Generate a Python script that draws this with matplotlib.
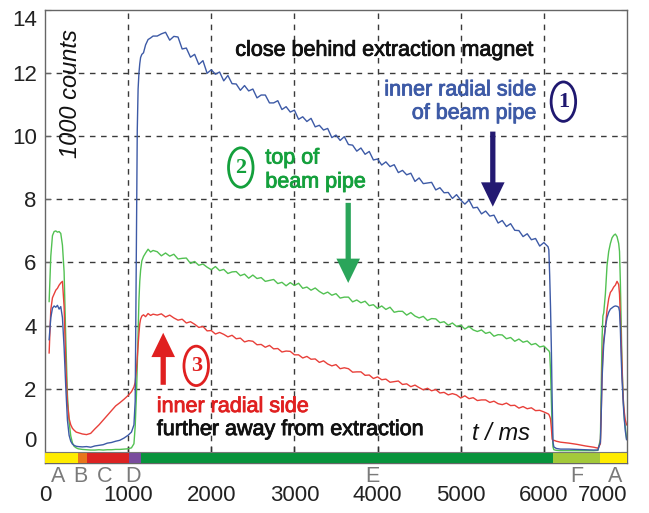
import matplotlib
matplotlib.use('Agg')
import matplotlib.pyplot as plt
from matplotlib.patches import Ellipse
from matplotlib import patheffects, transforms

# time axis in ms (shared by the three detector traces)
t_ms = [50, 70, 90, 110, 130, 150, 170, 190, 210, 230, 250, 270, 290, 310, 330,
        350, 375, 400, 450, 500, 550, 600, 650, 700, 750, 800, 850, 900, 950, 1000,
        1040, 1070, 1085, 1100, 1110, 1120, 1130, 1140, 1150, 1165, 1185, 1210, 1240,
        1270, 1300,
        1350, 1400, 1450, 1500, 1550, 1600, 1650, 1700, 1750, 1800,
        1850, 1900, 1950, 2000, 2050, 2100, 2150, 2200, 2250, 2300,
        2350, 2400, 2450, 2500, 2550, 2600, 2650, 2700, 2750, 2800,
        2850, 2900, 2950, 3000, 3050, 3100, 3150, 3200, 3250, 3300,
        3350, 3400, 3450, 3500, 3550, 3600, 3650, 3700, 3750, 3800,
        3850, 3900, 3950, 4000, 4050, 4100, 4150, 4200, 4250, 4300,
        4350, 4400, 4450, 4500, 4550, 4600, 4650, 4700, 4750, 4800,
        4850, 4900, 4950, 5000, 5050, 5100, 5150, 5200, 5250, 5300,
        5350, 5400, 5450, 5500, 5550, 5600, 5650, 5700, 5750, 5800,
        5850, 5900, 5950, 6000, 6050,
        6060, 6070, 6080, 6090, 6100, 6110, 6120, 6150, 6200, 6300, 6400, 6500,
        6600, 6650, 6680, 6690, 6700, 6710, 6720, 6740, 6760, 6780, 6800, 6820,
        6840, 6860, 6880, 6900, 6910, 6920, 6930, 6940, 6950, 6960, 6970, 6980, 6995]

# (1) inner radial side of beam pipe, close behind extraction magnet
blue_inner = [3.55, 4.25, 4.55, 4.62, 4.58, 4.64, 4.52, 4.60, 4.25, 3.30, 2.05, 1.00, 0.52, 0.33, 0.24,
              0.20, 0.17, 0.16, 0.15, 0.16, 0.14, 0.18, 0.20, 0.22, 0.27, 0.29, 0.33, 0.36, 0.43, 0.52,
              0.62, 0.85, 1.60, 6.50, 10.2, 11.5, 12.0, 12.3, 12.5, 12.6, 12.65, 12.9, 13.07,
              13.12, 13.18,
              13.18, 13.25, 13.30, 13.05, 13.17, 13.15, 12.77, 12.80, 12.51, 12.60,
              12.28, 12.40, 12.00, 12.11, 11.97, 12.04, 11.76, 11.93, 11.67, 11.66,
              11.46, 11.61, 11.44, 11.50, 11.22, 11.31, 11.31, 11.06, 11.06, 11.13,
              10.85, 10.94, 10.77, 10.83, 10.54, 10.62, 10.47, 10.57, 10.30, 10.35,
              10.20, 10.25, 9.96, 10.04, 9.87, 9.99, 9.74, 9.72, 9.53, 9.63,
              9.43, 9.52, 9.25, 9.28, 9.09, 9.19, 9.04, 9.10, 8.85, 8.92,
              8.78, 8.83, 8.57, 8.68, 8.50, 8.52, 8.54, 8.30, 8.37, 8.21,
              8.22, 8.03, 8.15, 7.98, 7.85, 7.98, 7.73, 7.75, 7.54, 7.63,
              7.47, 7.50, 7.25, 7.33, 7.14, 7.23, 7.02, 7.01, 6.82, 6.91,
              6.72, 6.76, 6.52, 6.63, 6.50,
              6.40, 5.60, 4.60, 3.30, 1.60, 0.30, 0.15, 0.10, 0.08, 0.08, 0.07, 0.06,
              0.05, 0.05, 0.30, 1.20, 2.30, 2.90, 3.40, 3.95, 4.25, 4.42, 4.52, 4.56,
              4.60, 4.62, 4.61, 4.58, 4.45, 3.90, 3.00, 2.30, 1.80, 1.30, 0.95, 0.65, 0.38]

# (2) top of beam pipe
green_top = [4.76, 6.20, 6.85, 6.98, 7.00, 6.96, 6.98, 6.92, 6.55, 5.70, 3.60, 1.80, 0.95, 0.50, 0.28,
             0.17, 0.12, 0.09, 0.07, 0.06, 0.05, 0.05, 0.06, 0.05, 0.06, 0.06, 0.07, 0.07, 0.08, 0.09,
             0.12, 0.25, 0.80, 1.80, 2.70, 3.80, 4.80, 5.40, 5.75, 6.05, 6.19, 6.30, 6.42,
             6.33, 6.38,
             6.34, 6.21, 6.30, 6.20, 6.26, 6.11, 6.13, 6.14, 5.97, 6.03,
             5.91, 5.95, 5.85, 5.77, 5.87, 5.74, 5.78, 5.65, 5.70, 5.71,
             5.58, 5.63, 5.50, 5.60, 5.49, 5.52, 5.40, 5.43, 5.46, 5.33,
             5.37, 5.26, 5.36, 5.27, 5.34, 5.18, 5.22, 5.12, 5.19, 5.08,
             5.00, 5.06, 4.96, 5.01, 4.87, 4.90, 4.90, 4.75, 4.81, 4.72,
             4.77, 4.63, 4.66, 4.54, 4.62, 4.51, 4.58, 4.42, 4.45, 4.45,
             4.33, 4.41, 4.30, 4.24, 4.29, 4.16, 4.22, 4.21, 4.09, 4.12,
             4.01, 4.08, 3.97, 4.01, 3.89, 3.97, 3.86, 3.81, 3.86, 3.75,
             3.79, 3.66, 3.71, 3.70, 3.58, 3.62, 3.50, 3.57, 3.47, 3.51,
             3.39, 3.43, 3.32, 3.35, 3.22,
             3.20, 3.14, 2.60, 1.60, 0.70, 0.15, 0.06, 0.04, 0.03, 0.03, 0.03, 0.03,
             0.03, 0.04, 0.40, 2.00, 3.60, 4.30, 4.40, 5.00, 5.90, 6.35, 6.60, 6.78,
             6.86, 6.90, 6.82, 6.60, 6.35, 5.40, 4.10, 2.80, 2.00, 1.40, 1.00, 0.75, 0.40]

# (3) inner radial side, further away from extraction
red_far = [3.13, 4.50, 4.88, 5.00, 5.12, 5.18, 5.28, 5.35, 5.40, 4.60, 2.80, 1.55, 1.05, 0.85, 0.74,
           0.68, 0.62, 0.60, 0.56, 0.54, 0.58, 0.72, 0.85, 1.00, 1.15, 1.30, 1.45, 1.55, 1.66, 1.78,
           1.90, 2.05, 2.20, 2.60, 3.00, 3.35, 3.75, 4.05, 4.20, 4.30, 4.34, 4.28, 4.38,
           4.32, 4.36,
           4.33, 4.37, 4.27, 4.33, 4.24, 4.17, 4.20, 4.08, 4.12, 4.04,
           3.94, 3.97, 3.83, 3.84, 3.73, 3.78, 3.72, 3.64, 3.69, 3.58,
           3.60, 3.48, 3.52, 3.50, 3.39, 3.40, 3.31, 3.37, 3.26, 3.27,
           3.16, 3.19, 3.18, 3.07, 3.07, 2.97, 3.02, 2.93, 2.94, 2.83,
           2.88, 2.78, 2.72, 2.76, 2.63, 2.66, 2.63, 2.52, 2.53, 2.53,
           2.42, 2.43, 2.32, 2.37, 2.28, 2.30, 2.20, 2.22, 2.24, 2.13,
           2.15, 2.06, 2.11, 2.03, 1.96, 2.01, 1.93, 1.97, 1.86, 1.88,
           1.80, 1.84, 1.80, 1.70, 1.77, 1.68, 1.71, 1.62, 1.64, 1.64,
           1.56, 1.60, 1.52, 1.49, 1.54, 1.46, 1.47, 1.38, 1.43, 1.36,
           1.39, 1.30, 1.31, 1.26, 1.20,
           1.18, 1.12, 1.04, 0.75, 0.40, 0.34, 0.36, 0.33, 0.30, 0.27, 0.23, 0.18,
           0.14, 0.11, 0.25, 1.20, 2.40, 3.20, 3.55, 3.95, 4.50, 4.85, 5.05, 5.12,
           5.22, 5.28, 5.40, 5.30, 5.00, 4.30, 3.50, 2.60, 1.90, 1.45, 1.20, 1.00, 0.85]

# cycle phases shown as coloured bar under the plot
phase_start = [0, 400, 510, 1015, 1155, 6110, 6670]
phase_end = [400, 510, 1015, 1155, 6110, 6670, 7000]
phase_colors = ['#ffec00', '#e8761c', '#dc2323', '#7a4c9e', '#08933c', '#a3c93a', '#ffec00']
phase_labels = ['A', 'B', 'C', 'D', 'E', 'F', 'A']
phase_label_x = [157, 430, 720, 1060, 3940, 6400, 6860]

x_ticks = [0, 1000, 2000, 3000, 4000, 5000, 6000, 7000]
y_ticks = [0, 2, 4, 6, 8, 10, 12, 14]

SANS = 'Liberation Sans'
c_blue, c_green, c_red = '#3d5aa6', '#52c152', '#e8403a'

fig = plt.figure(figsize=(6.49, 5.13), dpi=100)
ax = fig.add_axes([0.0693, 0.0975, 0.8968, 0.8826])
ax.set_xlim(0, 7000)
ax.set_ylim(-0.36, 14)

# dashed grid (no line at 0)
for x in x_ticks[1:-1]:
    ax.axvline(x, color='#3a3a3a', lw=1.0, ls=(0, (4, 4)), zorder=1)
for y in y_ticks[1:-1]:
    ax.axhline(y, color='#3a3a3a', lw=1.0, ls=(0, (4, 4)), zorder=1)
ax.vlines(x_ticks[1:-1], 0, 0.18, color='#333333', lw=1.0, zorder=1)

ax.plot(t_ms, green_top, color=c_green, lw=1.0, zorder=2)
ax.plot(t_ms, red_far, color=c_red, lw=1.0, zorder=2)
ax.plot(t_ms, blue_inner, color=c_blue, lw=1.0, zorder=2)

ax.broken_barh([(s, e - s) for s, e in zip(phase_start, phase_end)], (-0.36, 0.36),
               facecolors=phase_colors, edgecolor='none', zorder=4)
ax.axhline(0, color='#777777', lw=0.8, zorder=5)

lbl_trans = transforms.blended_transform_factory(ax.transData, ax.transAxes)
for lab, xl in zip(phase_labels, phase_label_x):
    ax.text(xl, -0.03, lab, transform=lbl_trans, ha='center', va='center',
            fontsize=15.5, color='#7a7a7a', family=SANS)

# axes frame & ticks
for sp in ax.spines.values():
    sp.set_color('#666666')
    sp.set_linewidth(1.0)
ax.set_xticks(x_ticks)
ax.set_xticklabels([str(v) for v in x_ticks], fontsize=16, family=SANS, color='#222222')
ax.set_yticks(y_ticks)
ax.set_yticklabels([str(v) for v in y_ticks], fontsize=16, family=SANS, color='#222222')
ax.tick_params(axis='x', length=0, pad=16)
ax.tick_params(axis='y', direction='in', length=4, pad=6, right=True, color='#666666')
xl = ax.get_xticklabels()
xl[-1].set_ha('right')
yl = ax.get_yticklabels()
yl[-1].set_va('top')
yl[0].set_va('bottom')


def label(x, y, s, color, ha='left'):
    pe = [patheffects.withStroke(linewidth=0.6, foreground=color)]
    ax.text(x, y, s, color=color, ha=ha, va='center', fontsize=15.5, family=SANS,
            path_effects=pe, zorder=6)


label(4075, 12.73, 'close behind extraction magnet', '#111111', ha='center')
label(5905, 11.47, 'inner radial side', c_blue, ha='right')
label(5905, 10.73, 'of beam pipe', c_blue, ha='right')
label(2650, 9.31, 'top of', '#14a03c')
label(2650, 8.55, 'beam pipe', '#14a03c')
label(1345, 1.43, 'inner radial side', '#e02020')
label(1345, 0.70, 'further away from extraction', '#111111')

ax.text(310, 11.35, '1000 counts', rotation=90, ha='center', va='center', fontsize=17,
        style='italic', family=SANS, color='#111111')
ax.text(5480, 0.59, 't / ms', ha='center', va='center', fontsize=17, style='italic',
        family=SANS, color='#111111')

# circled numbers
for cx, cy, num, col in [(6235, 11.1, '1', '#1f1870'), (2355, 9.01, '2', '#14a03c'),
                         (1819, 2.72, '3', '#e02020')]:
    ax.add_patch(Ellipse((cx, cy), 295, 1.25, fill=False, edgecolor=col, lw=2.0, zorder=6))
    ax.text(cx, cy, num, ha='center', va='center', fontsize=16, fontweight='bold',
            family='Liberation Serif', color=col, zorder=6)

# arrows
arrow_style = 'simple,head_length=1.75,head_width=1.7,tail_width=0.38'
for (x0, y0, y1, col) in [(5386, 10.15, 7.77, '#241a72'), (3647, 7.89, 5.35, '#2aa55a'),
                          (1422, 2.12, 3.77, '#e02020')]:
    ax.annotate('', xy=(x0, y1), xytext=(x0, y0),
                arrowprops=dict(arrowstyle=arrow_style, color=col, shrinkA=0, shrinkB=0,
                                mutation_scale=10, lw=0), zorder=6)

fig.savefig('out.png', dpi=100)
